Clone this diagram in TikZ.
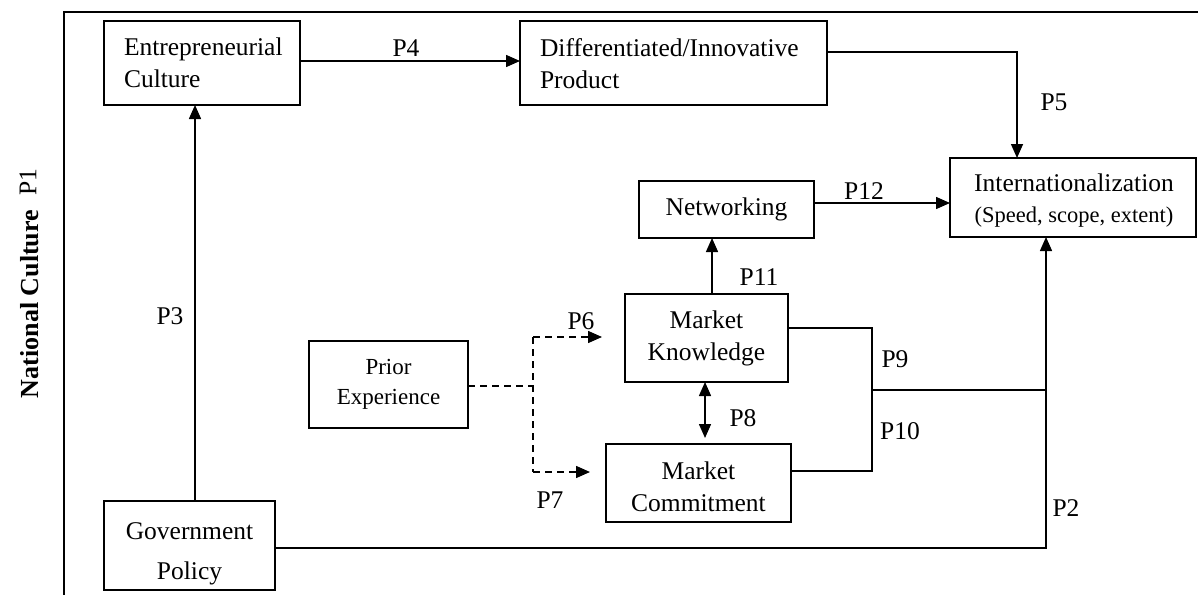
\documentclass[tikz,border=0pt]{standalone}
\usepackage{fontspec}
\setmainfont{Liberation Serif}
\usetikzlibrary{arrows.meta}
\begin{document}
\begin{tikzpicture}[x=1pt,y=-1pt,
  every node/.style={inner sep=0pt, outer sep=0pt},
  base/.style={font=\fontsize{25.5}{31}\selectfont},
  box/.style={draw, line width=1.5pt, base, align=center},
  lbl/.style={base},
  ln/.style={line width=1.5pt},
  arr/.style={line width=1.5pt, -{Triangle[length=14pt,width=12pt]}},
  dsh/.style={line width=1.5pt, dash pattern=on 7pt off 5pt},
  dsharr/.style={dsh, -{Triangle[length=14pt,width=12pt]}}]
\useasboundingbox (0,0) rectangle (1198,594);
\begin{scope}
\clip (0,0) rectangle (1198,594);
% frame
\coordinate (fbl) at (64,600);
\coordinate (ftl) at (64,12);
\coordinate (ftr) at (1205,12);
\draw[ln] (fbl) -- (ftl) -- (ftr);

% boxes
\node[box, minimum width=196pt, minimum height=84pt, text width=156pt, align=left, font=\fontsize{25.5}{32}\selectfont] (ent) at (202,63) {Entrepreneurial\\Culture};
\node[box, minimum width=307pt, minimum height=84pt] (diff) at (673.5,63) {};
\node[base, text width=267pt, align=left, font=\fontsize{25.5}{32}\selectfont] (difftext) at (673.5,64) {Differentiated/Innovative\\Product};
\node[box, minimum width=246pt, minimum height=79pt] (intl) at (1073,197.5) {};
\node[base, align=center] (intltext) at (1074,201) {Internationalization\\{\fontsize{22.5}{33}\selectfont (Speed, scope, extent)}};
\node[box, minimum width=175pt, minimum height=57pt] (net) at (726.5,209.5) {Networking};
\node[box, minimum width=163pt, minimum height=88pt, font=\fontsize{25.5}{32}\selectfont] (mk) at (706.5,338) {Market\\Knowledge};
\node[box, minimum width=185pt, minimum height=78pt] (mc) at (698.5,483) {};
\node[base, align=center, font=\fontsize{25.5}{32}\selectfont] (mctext) at (698.5,487) {Market\\Commitment};
\node[box, minimum width=171pt, minimum height=89pt] (gov) at (189.5,545.5) {};
\node[base, align=center, font=\fontsize{25.5}{40}\selectfont] (govtext) at (189.5,554) {Government\\Policy};
\node[box, minimum width=159pt, minimum height=87pt, font=\fontsize{23}{30}\selectfont] (prior) at (388.5,384.5) {Prior\\Experience};

% helper coordinates
\coordinate (x3) at (195,0);
\coordinate (k4) at (0,61);
\coordinate (k5) at (1017,52);
\coordinate (k12) at (0,203);
\coordinate (x11) at (712,0);
\coordinate (x8) at (705,0);
\coordinate (k9) at (0,328);
\coordinate (k10) at (0,471);
\coordinate (j9) at (872,328);
\coordinate (j10) at (872,471);
\coordinate (jm) at (872,390);
\coordinate (x2) at (1046,0);
\coordinate (kg) at (0,548);
\coordinate (kd) at (0,386);
\coordinate (dj) at (533,386);
\coordinate (d6) at (533,337);
\coordinate (d7) at (533,472);
\coordinate (t6) at (602,337);
\coordinate (t7) at (590,472);

% connectors
\draw[arr] (gov.north -| x3) -- (ent.south -| x3);
\draw[arr] (ent.east |- k4) -- (diff.west |- k4);
\draw[arr] (diff.east |- k5) -| (intl.north -| k5);
\draw[arr] (net.east |- k12) -- (intl.west |- k12);
\draw[arr] (mk.north -| x11) -- (net.south -| x11);
\draw[line width=1.5pt, {Triangle[length=14pt,width=12pt]}-{Triangle[length=14pt,width=12pt]}, shorten >=6pt] (mk.south -| x8) -- (mc.north -| x8);
\draw[ln] (mk.east |- k9) -- (j9) -- (j10) -- (mc.east |- k10);
\draw[ln] (jm) -- (jm -| x2);
\draw[arr] (gov.east |- kg) -| (intl.south -| x2);
\draw[dsh] (prior.east |- kd) -- (dj);
\draw[dsh] (d6) -- (d7);
\draw[dsharr] (d6) -- (t6);
\draw[dsharr] (d7) -- (t7);

% labels
\node[lbl] (p4) at (406,48) {P4};
\node[lbl] (p5) at (1054,102) {P5};
\node[lbl] (p12) at (864,191) {P12};
\node[lbl] (p11) at (759,277) {P11};
\node[lbl] (p6) at (581,321) {P6};
\node[lbl] (p7) at (550,500) {P7};
\node[lbl] (p8) at (743,418) {P8};
\node[lbl] (p9) at (895,359) {P9};
\node[lbl] (p10) at (900,431) {P10};
\node[lbl] (p2) at (1066,508) {P2};
\node[lbl] (p3) at (170,316) {P3};
\node[font=\fontsize{26}{30}\selectfont\bfseries, rotate=90] (nc) at (30,304) {National Culture};
\node[lbl, rotate=90] (p1) at (28,182) {P1};
\end{scope}
\end{tikzpicture}
\end{document}
